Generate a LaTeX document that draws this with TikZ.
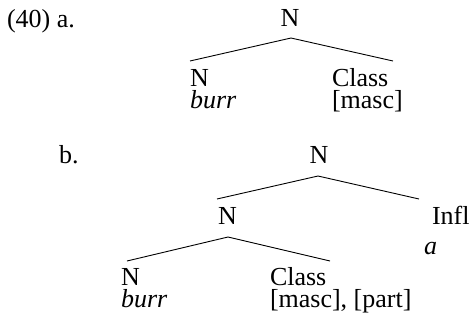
\documentclass[tikz,border=0pt]{standalone}
\usepackage{fontspec}
\setmainfont{Liberation Serif}
\begin{document}
\begin{tikzpicture}[x=1pt,y=-1pt,
  lbl/.style={inner sep=0pt, outer sep=0pt, font=\fontsize{26}{30}\selectfont},
  lw/.style={lbl, anchor=base west},
  lc/.style={lbl, anchor=base},
  branch/.style={line width=0.9pt, black}]
\useasboundingbox (0,0) rectangle (469,325);
% labels
\node[lw] (lbla) at (7,27) {(40) a.};
\node[lw] (lblb) at (59,163) {b.};
% tree a
\node[lc] (aN) at (290,26) {N};
\coordinate (aTop) at (291,38);
\coordinate (aL) at (190,61);
\coordinate (aR) at (393,61);
\node[lw] (aNl) at (190,86) {N};
\node[lw] (aCl) at (332,86) {Class};
\node[lw] (aburr) at (190,108) {\textit{burr}};
\node[lw] (amasc) at (332,108) {[masc]};
\draw[branch] (aL) -- (aTop) -- (aR);
% tree b
\node[lc] (bN) at (319,163) {N};
\coordinate (bTop) at (318,176);
\coordinate (bL) at (217,199);
\coordinate (bR) at (419,199);
\node[lw] (bNm) at (218,224) {N};
\node[lw] (bInfl) at (432,224) {Infl};
\node[lw] (ba) at (424,254) {\textit{a}};
\draw[branch] (bL) -- (bTop) -- (bR);
\coordinate (cTop) at (228,237);
\coordinate (cL) at (127,261);
\coordinate (cR) at (330,261);
\node[lw] (bNl) at (121,285) {N};
\node[lw] (bCl) at (270,285) {Class};
\node[lw] (bburr) at (121,307) {\textit{burr}};
\node[lw] (bmasc) at (270,307) {[masc], [part]};
\draw[branch] (cL) -- (cTop) -- (cR);
\end{tikzpicture}
\end{document}
